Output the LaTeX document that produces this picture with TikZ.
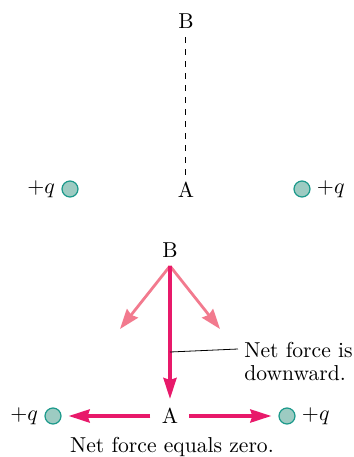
\documentclass[tikz,border=0pt]{standalone}
\usetikzlibrary{arrows.meta}
\definecolor{netred}{HTML}{E8196A}
\definecolor{partred}{HTML}{F27A8E}
\definecolor{chargefill}{HTML}{9DCBC2}
\definecolor{chargeline}{HTML}{1B998B}
\begin{document}
\begin{tikzpicture}[x=0.5pt, y=-0.5pt,
		charge/.style={circle, draw=chargeline, fill=chargefill, line width=0.6pt, minimum size=8pt, inner sep=0pt},
		pt/.style={inner sep=1pt, font=\fontsize{10.8}{11.5}\selectfont},
		netarrow/.style={draw=netred, line width=1.75pt, -{Stealth[length=10.5pt, width=6.5pt, inset=1pt]}},
		partarrow/.style={draw=partred, line width=1.4pt, -{Stealth[length=10pt, width=7pt, inset=1pt]}}]
	\useasboundingbox (0,0) rectangle (354,457);
	
	% Hình trên: hai điện tích và đoạn AB
	\node[pt] (B1) at (186,21) {B};
	\node[pt] (A1) at (186,190) {A};
	\draw[dashed, line width=0.5pt] (186,37) -- (A1.north);
	\node[charge] (ql1) at (70,189) {};
	\node[charge] (qr1) at (302,189) {};
	\node[pt, anchor=east] (lbl1) at (ql1.west) [xshift=-2pt] {$+q$};
	\node[pt, anchor=west] (lbr1) at (qr1.east) [xshift=2pt] {$+q$};
	
	% Hình dưới: lực tại B và tại A
	\node[pt] (B2) at (170,250) {B};
	\coordinate (O) at (170,266);
	\coordinate (fl) at (120,329);
	\coordinate (fr) at (220,329);
	\coordinate (fd) at (170,399);
	\draw[partarrow] (O) -- (fl);
	\draw[partarrow] (O) -- (fr);
	\draw[netarrow] (O) -- (fd);
	
	\node[pt] (A2) at (170,416) {A};
	\node[charge] (ql2) at (53,416) {};
	\node[charge] (qr2) at (287,416) {};
	\node[pt, anchor=east] (lbl2) at (ql2.west) [xshift=-2pt] {$+q$};
	\node[pt, anchor=west] (lbr2) at (qr2.east) [xshift=2pt] {$+q$};
	\draw[netarrow, shorten <=4.5pt, shorten >=3.5pt] (A2.west) -- (ql2.east);
	\draw[netarrow, shorten <=4.5pt, shorten >=3.5pt] (A2.east) -- (qr2.west);
	
	% Chú thích
	\node[pt, anchor=west, align=left] (net) at (242,361) {Net force is\\downward.};
	\coordinate (tick) at (170,352);
	\draw[line width=0.4pt] (tick) -- ([xshift=-2pt]net.west |- 0,349);
	\node[pt] (zero) at (172,447) {Net force equals zero.};
\end{tikzpicture}
\end{document}
